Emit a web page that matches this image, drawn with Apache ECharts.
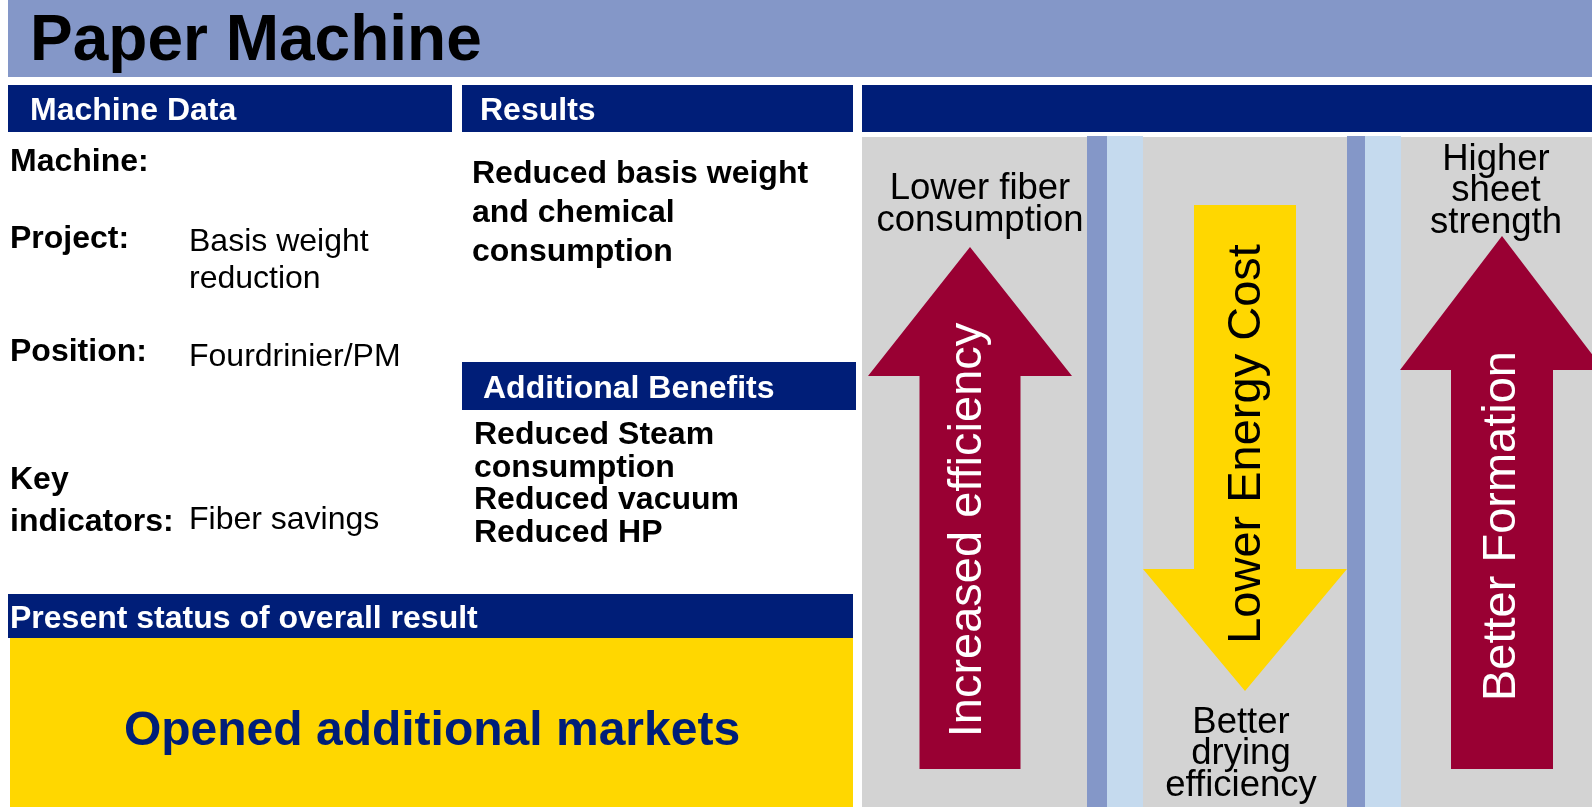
<!DOCTYPE html>
<html>
<head>
<meta charset="utf-8">
<script src="https://cdn.jsdelivr.net/npm/echarts@6/dist/echarts.min.js"></script>
<style>
html, body { margin: 0; padding: 0; background: #fff; }
#main { width: 1592px; height: 807px; }
</style>
</head>
<body>
<div id="main"></div>
<script>
// texts of the sheet
var title = 'Paper Machine';
var headerTitles = ['Machine Data', 'Results', ''];
var machineLabels = ['Machine:', 'Project:', 'Position:', 'Key\nindicators:'];
var machineValues = ['', 'Basis weight\nreduction', 'Fourdrinier/PM', 'Fiber savings'];
var resultLines = ['Reduced basis weight', 'and chemical', 'consumption'];
var benefitTitle = 'Additional Benefits';
var benefitLines = ['Reduced Steam', 'consumption', 'Reduced vacuum', 'Reduced HP'];
var statusTitle = 'Present status of overall result';
var statusText = 'Opened additional markets';
var arrowLabels = ['Increased efficiency', 'Lower Energy Cost', 'Better Formation'];
var arrowNotes = ['Lower fiber\nconsumption', 'Better\ndrying\nefficiency', 'Higher\nsheet\nstrength'];

// colours
var NAVY = '#001E78';
var BANNER = '#8497C8';
var GREY = '#D3D3D3';
var PALE = '#C5DAEE';
var CRIMSON = '#990033';
var GOLD = '#FFD700';
var FONT = "'Liberation Sans', Arial, Helvetica, sans-serif";

// layout
var headerBars = [[8, 452], [462, 853], [862, 1592]];
var labelY = [162, 239, 352, 501];
var valueY = [162, 261, 357, 520];
var arrowLayout = [
  { cx: 970, tip: 247, base: 376, end: 769, shaft: 101, head: 204, color: CRIMSON, text: '#fff', ly: 530, lx: 968 },
  { cx: 1245, tip: 691, base: 569, end: 205, shaft: 102, head: 204, color: GOLD, text: '#000', ly: 444, lx: 1247 },
  { cx: 1502, tip: 236, base: 370, end: 769, shaft: 102, head: 204, color: CRIMSON, text: '#fff', ly: 526, lx: 1502 }
];
var notePos = [[980, 205], [1241, 754], [1496, 191]];

function txt(x, y, text, size, weight, color, align, lh) {
  return {
    type: 'text', x: x, y: y, silent: true,
    style: {
      text: text, fill: color,
      font: weight + ' ' + size + 'px ' + FONT,
      textAlign: align || 'left', textVerticalAlign: 'middle',
      lineHeight: lh || size
    }
  };
}

function arrowPoints(a) {
  var hs = a.shaft / 2, hh = a.head / 2;
  return [
    [a.cx, a.tip], [a.cx + hh, a.base], [a.cx + hs, a.base], [a.cx + hs, a.end],
    [a.cx - hs, a.end], [a.cx - hs, a.base], [a.cx - hh, a.base]
  ];
}

var els = [];
// banner
els.push({ type: 'rect', shape: { x: 8, y: 0, width: 1584, height: 77 }, style: { fill: BANNER } });
els.push(txt(30, 42, title, 64, 'bold', '#000'));

// header bars
headerBars.forEach(function (b, i) {
  els.push({ type: 'rect', shape: { x: b[0], y: 85, width: b[1] - b[0], height: 47 }, style: { fill: NAVY } });
  if (headerTitles[i]) els.push(txt(b[0] + (i === 0 ? 22 : 18), 111, headerTitles[i], 32, 'bold', '#fff'));
});

// machine data
machineLabels.forEach(function (t, i) {
  els.push(txt(10, labelY[i], t, 32, 'bold', '#000', 'left', 42));
  if (machineValues[i]) els.push(txt(189, valueY[i], machineValues[i], 32, 'normal', '#000', 'left', 37));
});

// results
els.push(txt(472, 213, resultLines.join('\n'), 32, 'bold', '#000', 'left', 39));
els.push({ type: 'rect', shape: { x: 462, y: 362, width: 394, height: 48 }, style: { fill: NAVY } });
els.push(txt(483, 389, benefitTitle, 32, 'bold', '#fff'));
els.push(txt(474, 484, benefitLines.join('\n'), 32, 'bold', '#000', 'left', 32.5));

// status
els.push({ type: 'rect', shape: { x: 8, y: 594, width: 845, height: 44 }, style: { fill: NAVY } });
els.push(txt(10, 619, statusTitle, 32, 'bold', '#fff'));
els.push({ type: 'rect', shape: { x: 10, y: 638, width: 843, height: 169 }, style: { fill: GOLD } });
els.push(txt(432, 732, statusText, 48, 'bold', NAVY, 'center'));

// right panel
els.push({ type: 'rect', shape: { x: 862, y: 137, width: 730, height: 670 }, style: { fill: GREY } });
[[1087, 1107, 1143], [1347, 1365, 1401]].forEach(function (s) {
  els.push({ type: 'rect', shape: { x: s[0], y: 136, width: s[1] - s[0], height: 671 }, style: { fill: BANNER } });
  els.push({ type: 'rect', shape: { x: s[1], y: 136, width: s[2] - s[1], height: 671 }, style: { fill: PALE } });
});

arrowLayout.forEach(function (a, i) {
  els.push({ type: 'polygon', shape: { points: arrowPoints(a) }, style: { fill: a.color } });
  els.push({
    type: 'text', x: a.lx, y: a.ly, rotation: Math.PI / 2, silent: true,
    style: {
      text: arrowLabels[i], fill: a.text, font: 'normal 47px ' + FONT,
      textAlign: 'center', textVerticalAlign: 'middle'
    }
  });
  els.push(txt(notePos[i][0], notePos[i][1], arrowNotes[i], 36.5, 'normal', '#000', 'center', 31.5));
});

var chart = echarts.init(document.getElementById('main'));
chart.setOption({
  animation: false,
  graphic: { elements: els }
});
</script>
</body>
</html>
